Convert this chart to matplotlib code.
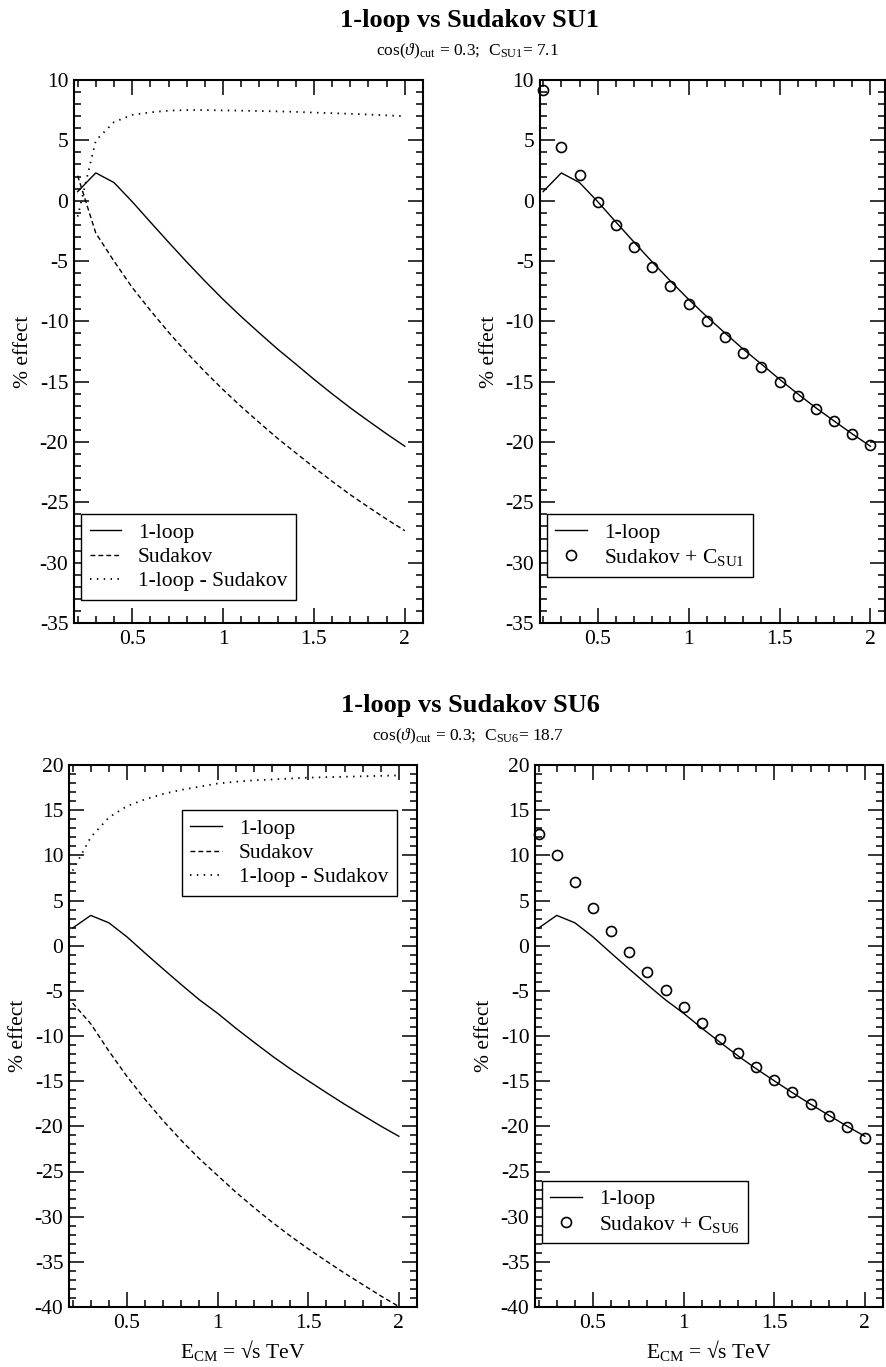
import matplotlib
matplotlib.use('Agg')
import matplotlib.pyplot as plt
from matplotlib.ticker import MultipleLocator, FuncFormatter

plt.rcParams['font.family'] = ['Liberation Serif', 'DejaVu Serif']
plt.rcParams['mathtext.fontset'] = 'custom'
plt.rcParams['mathtext.rm'] = 'Liberation Serif'
plt.rcParams['mathtext.it'] = 'Liberation Serif:italic'
plt.rcParams['mathtext.bf'] = 'Liberation Serif:bold'
plt.rcParams['mathtext.fallback'] = 'stix'
plt.rcParams['axes.unicode_minus'] = False

# energies (TeV)
energy = [0.2, 0.3, 0.4, 0.5, 0.6, 0.7, 0.8, 0.9, 1.0, 1.1,
          1.2, 1.3, 1.4, 1.5, 1.6, 1.7, 1.8, 1.9, 2.0]

# SU1 point, C = 7.1
su1_oneloop = [0.75, 2.30, 1.50, -0.08, -1.77, -3.44, -5.08, -6.66, -8.18, -9.61,
               -10.97, -12.30, -13.54, -14.80, -16.01, -17.17, -18.26, -19.33, -20.35]
su1_sudakov = [2.07, -2.69, -5.01, -7.19, -9.09, -10.90, -12.59, -14.17, -15.66, -17.07,
               -18.40, -19.70, -20.90, -22.10, -23.26, -24.37, -25.40, -26.40, -27.35]
su1_diff = [-1.32, 4.99, 6.51, 7.11, 7.32, 7.46, 7.51, 7.51, 7.48, 7.46,
            7.43, 7.40, 7.36, 7.30, 7.25, 7.20, 7.14, 7.07, 7.00]
su1_sud_c = [9.17, 4.41, 2.09, -0.09, -1.99, -3.80, -5.49, -7.07, -8.56, -9.97,
             -11.30, -12.60, -13.80, -15.00, -16.16, -17.27, -18.30, -19.30, -20.25]

# SU6 point, C = 18.7
su6_oneloop = [1.95, 3.35, 2.53, 0.97, -0.83, -2.59, -4.32, -6.00, -7.49, -9.13,
               -10.68, -12.20, -13.62, -14.96, -16.27, -17.55, -18.76, -19.97, -21.10]
su6_sudakov = [-6.35, -8.65, -11.67, -14.48, -17.03, -19.39, -21.57, -23.60, -25.44, -27.28,
               -28.98, -30.60, -32.12, -33.56, -34.92, -36.25, -37.51, -38.77, -39.95]
su6_diff = [8.30, 12.00, 14.20, 15.45, 16.20, 16.80, 17.25, 17.60, 17.95, 18.15,
            18.30, 18.40, 18.50, 18.60, 18.65, 18.70, 18.75, 18.80, 18.85]
su6_sud_c = [12.35, 10.05, 7.03, 4.22, 1.67, -0.69, -2.87, -4.90, -6.74, -8.58,
             -10.28, -11.90, -13.42, -14.86, -16.22, -17.55, -18.81, -20.07, -21.25]

W, H = 886, 1367
FS = 15.5
fig = plt.figure(figsize=(W / 100, H / 100), dpi=100)


def px_axes(x0, y0, x1, y1):
    return fig.add_axes([x0 / W, 1 - y1 / H, (x1 - x0) / W, (y1 - y0) / H])


def style(ax, xlim, ylim):
    ax.set_xlim(xlim)
    ax.set_ylim(ylim)
    ax.xaxis.set_major_locator(MultipleLocator(0.5))
    ax.xaxis.set_minor_locator(MultipleLocator(0.1))
    ax.yaxis.set_major_locator(MultipleLocator(5))
    ax.yaxis.set_minor_locator(MultipleLocator(1))
    ax.xaxis.set_major_formatter(FuncFormatter(lambda v, p: f'{v:g}'))
    ax.yaxis.set_major_formatter(FuncFormatter(lambda v, p: f'{v:g}'))
    ax.tick_params(which='both', direction='in', top=True, right=True,
                   width=1.1, labelsize=FS, colors='black')
    ax.tick_params(which='major', length=10.5)
    ax.tick_params(which='minor', length=5)
    ax.tick_params(axis='y', pad=4)
    ax.tick_params(axis='x', pad=5)
    for s in ax.spines.values():
        s.set_linewidth(1.5)
    ax.set_ylabel('% effect', fontsize=FS)
    ax.yaxis.set_label_coords(-0.118, 0.5)


def add_legend(ax, x, y):
    leg = ax.legend(loc='upper left', bbox_to_anchor=(x / W, 1 - y / H),
                    bbox_transform=fig.transFigure, borderaxespad=0,
                    fancybox=False, edgecolor='black', framealpha=1,
                    fontsize=FS, handlelength=1.45, handletextpad=0.8,
                    labelspacing=0.2, borderpad=0.4)
    leg.get_frame().set_linewidth(1.0)


dash = (0, (3.5, 2.2))
dot = (0, (0.8, 3.0))
lw = 1.0
mk = dict(marker='o', linestyle='none', markersize=7.2, markerfacecolor='none',
          markeredgecolor='black', markeredgewidth=1.2)

panels = [
    ('1-loop vs Sudakov SU1', r'cos($\vartheta$)$_{\mathrm{cut}}$ = 0.3;  C$_{\mathrm{SU1}}$= 7.1',
     'SU1', su1_oneloop, su1_sudakov, su1_diff, su1_sud_c, 0, (-35, 10)),
    ('1-loop vs Sudakov SU6', r'cos($\vartheta$)$_{\mathrm{cut}}$ = 0.3;  C$_{\mathrm{SU6}}$= 18.7',
     'SU6', su6_oneloop, su6_sudakov, su6_diff, su6_sud_c, 685, (-40, 20)),
]

for title, sub, tag, one, sud, diff, sudc, dy, ylim in panels:
    fig.text(470 / W, 1 - (27 + dy) / H, title, ha='center', va='baseline',
             fontsize=19, fontweight='bold')
    fig.text(468 / W, 1 - (55 + dy) / H, sub, ha='center', va='baseline', fontsize=12.5)

    if dy == 0:
        axl = px_axes(74, 80, 423, 623)
        axr = px_axes(539.5, 80, 885, 623)
        style(axl, (0.18, 2.1), ylim)
        style(axr, (0.18, 2.08), ylim)
    else:
        axl = px_axes(69, 765, 417, 1307)
        axr = px_axes(535, 765, 883, 1307)
        style(axl, (0.18, 2.1), ylim)
        style(axr, (0.18, 2.1), ylim)

    axl.plot(energy, one, color='black', lw=lw, label='1-loop')
    axl.plot(energy, sud, color='black', lw=lw, linestyle=dash, label='Sudakov')
    axl.plot(energy, diff, color='black', lw=1.3, linestyle=dot, label='1-loop - Sudakov')

    axr.plot(energy, one, color='black', lw=lw, label='1-loop')
    axr.plot(energy, sudc, label=r'Sudakov + C$_{\mathrm{' + tag + '}}$', clip_on=False, **mk)

    if dy == 0:
        add_legend(axl, 81, 514)
        add_legend(axr, 546.7, 514)
    else:
        add_legend(axl, 181.7, 810)
        add_legend(axr, 541.7, 1180.7)
        for ax in (axl, axr):
            ax.set_xlabel(r'E$_{\mathrm{CM}}$ = √s TeV', fontsize=FS)
            ax.xaxis.set_label_coords(0.5, -0.058)

fig.savefig('out.png', dpi=100)
